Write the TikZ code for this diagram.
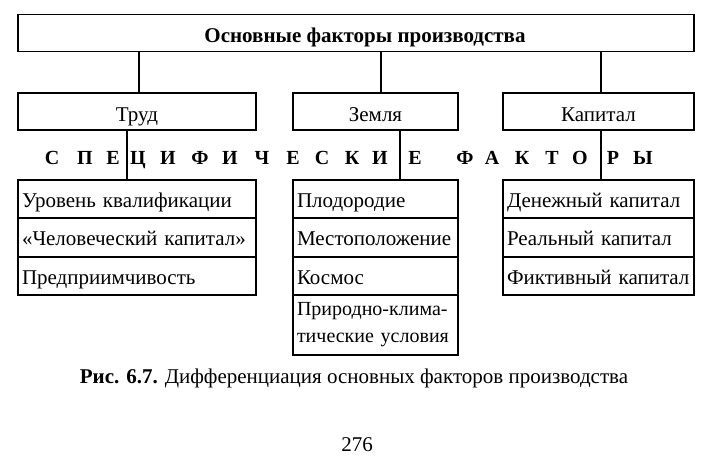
\documentclass[tikz,border=0pt]{standalone}
\usepackage{fontspec}
\setmainfont{Liberation Serif}
\usetikzlibrary{positioning}

\begin{document}
\begin{tikzpicture}
  [x=1pt,y=-1pt,line width=1.6pt,font=\fontsize{21}{23}\selectfont,
   every node/.style={inner sep=0pt}]

  \tikzstyle{headbox} = [draw, minimum height=37pt, text height=19pt, text depth=0pt]
  \tikzstyle{itembox} = [draw, minimum height=38.5pt, inner xsep=4pt, align=left,
                         text height=16pt, text depth=0pt]

  \useasboundingbox (0,0) rectangle (712,456);

  \node[headbox, minimum width=676pt] (main) at (356,33)
       {\hspace*{18pt}\textbf{Основные факторы производства}};

  \node[headbox, minimum width=238pt] (trud)    at (137,111.5)   {Труд};
  \node[headbox, minimum width=165pt] (zemlya)  at (375.5,111.5) {Земля};
  \node[headbox, minimum width=191pt] (kapital) at (598.5,111.5) {Капитал};

  % spaced line
  \foreach \l/\x in {С/52,П/85,Е/113,Ц/138,И/168,Ф/200,И/230,Ч/262,Е/293,С/322,К/352,
                     И/380,Е/415,Ф/465,А/492,К/522,Т/552,О/580,Р/613,Ы/643}
    \node[font=\fontsize{20}{22}\selectfont\bfseries, text height=14pt, text depth=0pt]
      at (\x,157) {\l};

  % Труд
  \node[itembox, text width=230pt] (t1) at (137,199)   {Уровень квалификации};
  \node[itembox, text width=230pt] (t2) at (137,237.5) {«Человеческий капитал»};
  \node[itembox, text width=230pt] (t3) at (137,276)   {Предприимчивость};

  % Земля
  \node[itembox, text width=157pt] (z1) at (375.5,199)   {Плодородие};
  \node[itembox, text width=157pt] (z2) at (375.5,237.5) {Местоположение};
  \node[itembox, text width=157pt] (z3) at (375.5,276)   {Космос};
  \node[draw, minimum height=60pt, inner xsep=4pt, align=left, text width=157pt,
        font=\fontsize{20}{27}\selectfont] (z4)
       at (375.5,325) {Природно-клима-\\тические условия};

  % Капитал
  \node[itembox, text width=183pt] (k1) at (598.5,199)   {Денежный капитал};
  \node[itembox, text width=183pt] (k2) at (598.5,237.5) {Реальный капитал};
  \node[itembox, text width=183pt] (k3) at (598.5,276)   {Фиктивный капитал};

  \draw ([xshift=2pt]trud.north)    -- ([xshift=2pt]trud.north |- main.south);
  \draw ([xshift=5.5pt]zemlya.north) -- ([xshift=5.5pt]zemlya.north |- main.south);
  \draw ([xshift=2.5pt]kapital.north) -- ([xshift=2.5pt]kapital.north |- main.south);

  \draw ([xshift=-10pt]trud.south)   -- ([xshift=-10pt]t1.north);
  \draw ([xshift=24.5pt]zemlya.south) -- ([xshift=24.5pt]z1.north);
  \draw ([xshift=2.5pt]kapital.south) -- ([xshift=2.5pt]k1.north);

  \node (caption) at (354,378) {\textbf{Рис. 6.7.} Дифференциация основных факторов производства};
  \node (page) at (357,445) {276};
\end{tikzpicture}
\end{document}
